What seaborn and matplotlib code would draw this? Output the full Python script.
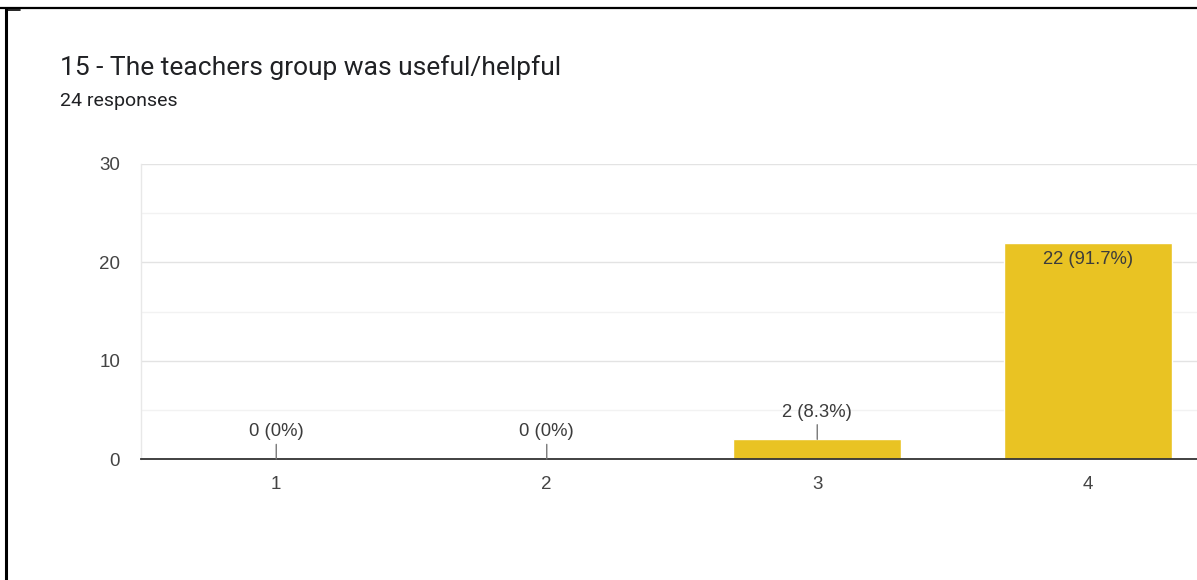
import matplotlib
matplotlib.use("Agg")
import matplotlib.pyplot as plt
from matplotlib.lines import Line2D
import seaborn as sns
import pandas as pd

categories = ["1", "2", "3", "4"]
counts = [0, 0, 2, 22]
title = "15 - The teachers group was useful/helpful"
subtitle = "24 responses"
y_ticks = [0, 10, 20, 30]

sns.set_theme(style="white")
plt.rcParams['font.family'] = ['Roboto', 'DejaVu Sans']
ARIAL = ['Liberation Sans', 'DejaVu Sans']

W, H, DPI = 1197, 580, 100
fig = plt.figure(figsize=(W / DPI, H / DPI), dpi=DPI)
fig.patch.set_facecolor("white")

left_px, right_px = 141, 1223
bottom_px, top_px = 459, 164
ax = fig.add_axes([left_px / W, (H - bottom_px) / H,
                   (right_px - left_px) / W, (bottom_px - top_px) / H])

df = pd.DataFrame({"cat": categories, "count": counts})
bar_color = "#E9C323"
sns.barplot(data=df, x="cat", y="count", order=categories, color=bar_color,
            width=0.62, saturation=1, ax=ax, zorder=3)

ax.set_xlim(-0.5, 3.5)
ax.set_ylim(0, 30)
ax.set_yticks(y_ticks)
ax.set_yticks([5, 15, 25], minor=True)
ax.grid(axis="y", which="major", color="#e3e3e3", lw=1, zorder=0)
ax.grid(axis="y", which="minor", color="#f2f2f2", lw=1, zorder=0)
ax.grid(axis="x", visible=False)
ax.tick_params(axis="both", which="both", length=0, labelsize=13.5, labelcolor="#444444")
ax.tick_params(axis="y", pad=15)
ax.tick_params(axis="x", pad=12)
for lbl in ax.get_xticklabels() + ax.get_yticklabels():
    lbl.set_family(ARIAL)
ax.set_xlabel("")
ax.set_ylabel("")
for s in ["top", "right"]:
    ax.spines[s].set_visible(False)
ax.spines["left"].set_color("#e8e8e8")
ax.spines["left"].set_linewidth(1)
ax.spines["bottom"].set_color("#333333")
ax.spines["bottom"].set_linewidth(1.3)
ax.spines["bottom"].set_zorder(5)

total = sum(counts)
for i, c in enumerate(counts):
    pct = c / total * 100
    pct_s = f"{pct:.1f}".rstrip("0").rstrip(".") + "%"
    label = f"{c} ({pct_s})"
    if c >= 5:
        ax.annotate(label, xy=(i, c), xytext=(0, -12), textcoords="offset points",
                    ha="center", va="center", fontsize=13.3, color="#3c3c3c",
                    family=ARIAL, zorder=6)
    else:
        ax.annotate(label, xy=(i, c), xytext=(0, 19.5), textcoords="offset points",
                    ha="center", va="center", fontsize=13.3, color="#3c3c3c",
                    family=ARIAL, zorder=6,
                    arrowprops=dict(arrowstyle="-", color="#777777", lw=1,
                                    shrinkA=0.5, shrinkB=0))

fig.text(60 / W, 1 - 67.5 / H, title, fontsize=19, color="#202124",
         ha="left", va="center")
fig.text(60 / W, 1 - 101.5 / H, subtitle, fontsize=14, color="#202124",
         ha="left", va="center")

# page borders
fig.add_artist(Line2D([0, 1], [1 - 8 / H, 1 - 8 / H], color="black", lw=1.6,
                      transform=fig.transFigure))
fig.add_artist(Line2D([6 / W, 6 / W], [0, 1 - 8 / H], color="black", lw=2.2,
                      transform=fig.transFigure))
fig.add_artist(Line2D([6 / W, 20 / W], [1 - 9.5 / H, 1 - 9.5 / H], color="black", lw=1.2,
                      transform=fig.transFigure))

fig.savefig("out.png", dpi=DPI, facecolor="white")
